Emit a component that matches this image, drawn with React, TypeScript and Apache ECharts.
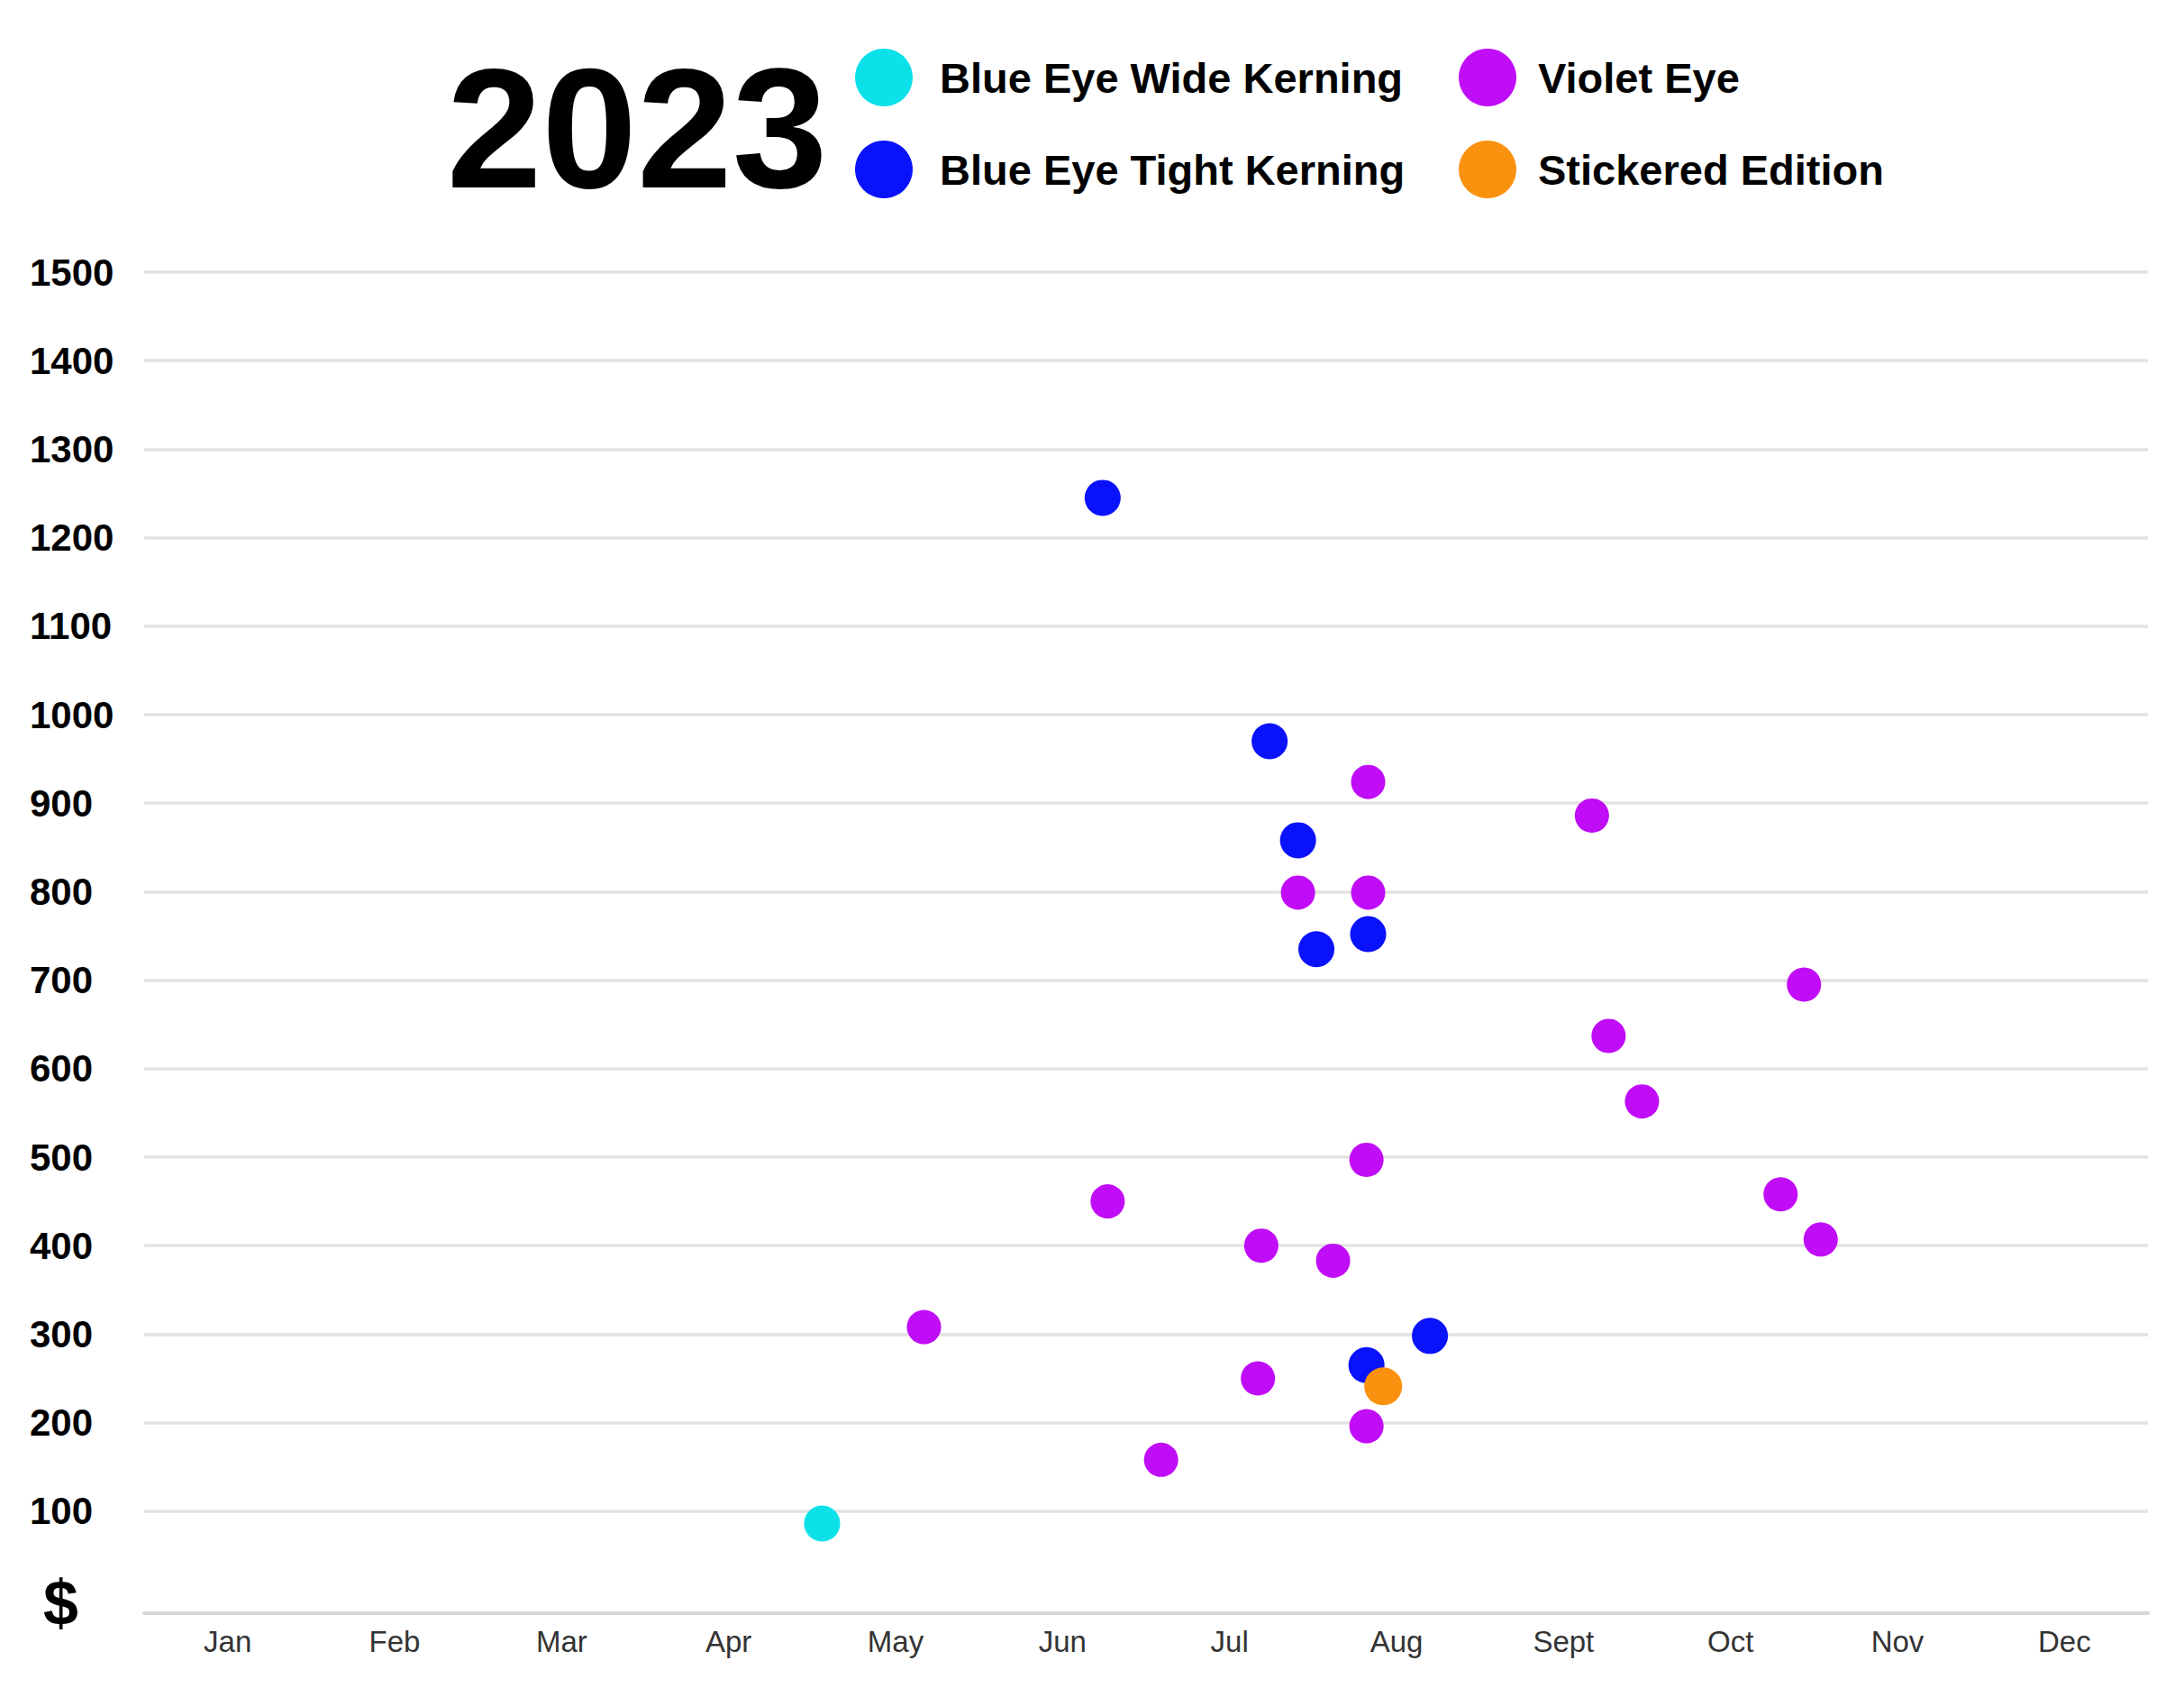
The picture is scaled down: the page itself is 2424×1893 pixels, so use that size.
import { useEffect, useRef } from 'react';
import * as echarts from 'echarts';

// month labels along the bottom; scatter x is months since Jan 1 (0..12)
const months = ['Jan', 'Feb', 'Mar', 'Apr', 'May', 'Jun', 'Jul', 'Aug', 'Sept', 'Oct', 'Nov', 'Dec'];

const wideKerning: [number, number][] = [[4.06, 86]];

const tightKerning: [number, number][] = [
  [5.74, 1245],
  [6.74, 970],
  [6.91, 858],
  [7.02, 735],
  [7.33, 752],
  [7.32, 265],
  [7.7, 298],
];

const violetEye: [number, number][] = [
  [4.67, 308],
  [5.77, 450],
  [6.09, 158],
  [6.67, 250],
  [6.69, 400],
  [6.91, 799],
  [7.12, 383],
  [7.33, 924],
  [7.33, 799],
  [7.32, 497],
  [7.32, 196],
  [8.67, 886],
  [8.77, 637],
  [8.97, 563],
  [9.8, 458],
  [9.94, 695],
  [10.04, 407],
];

const stickered: [number, number][] = [[7.42, 241]];

const FONT = '"Liberation Sans", Arial, sans-serif';

export default function App() {
  const chartRef = useRef<HTMLDivElement>(null);

  useEffect(() => {
    if (!chartRef.current) return;
    const chart = echarts.init(chartRef.current, undefined, { renderer: 'svg' });

    const legendText = {
      fontSize: 47,
      fontWeight: 'bold' as const,
      fontFamily: FONT,
      color: '#000',
    };

    chart.setOption({
      animation: false,
      backgroundColor: '#fff',
      textStyle: { fontFamily: FONT },
      grid: { left: 160, right: 40, top: 302, bottom: 118 },
      graphic: [
        {
          type: 'text',
          x: 707,
          y: 142,
          style: {
            text: '2023',
            fontSize: 190,
            fontWeight: 'bold',
            fontFamily: FONT,
            fill: '#000',
            align: 'center',
            verticalAlign: 'middle',
          },
        },
      ],
      legend: [
        {
          left: 944,
          top: 49,
          orient: 'vertical',
          icon: 'circle',
          itemWidth: 64,
          itemHeight: 64,
          itemGap: 38,
          data: ['Blue Eye Wide Kerning', 'Blue Eye Tight Kerning'],
          textStyle: { ...legendText, padding: [0, 0, 0, 25] },
        },
        {
          left: 1614,
          top: 49,
          orient: 'vertical',
          icon: 'circle',
          itemWidth: 64,
          itemHeight: 64,
          itemGap: 38,
          data: ['Violet Eye', 'Stickered Edition'],
          textStyle: { ...legendText, padding: [0, 0, 0, 19] },
        },
      ],
      xAxis: [
        {
          type: 'category',
          data: months,
          boundaryGap: true,
          offset: 15,
          axisLine: { show: true, onZero: false, lineStyle: { color: '#d6d6d6', width: 4 } },
          axisTick: { show: false },
          splitLine: { show: false },
          axisLabel: {
            fontSize: 33,
            color: '#333',
            fontFamily: FONT,
            margin: 15,
          },
        },
        {
          type: 'value',
          min: 0,
          max: 12,
          show: false,
          splitLine: { show: false },
        },
      ],
      yAxis: {
        type: 'value',
        min: 0,
        max: 1500,
        interval: 100,
        axisLine: { show: false },
        axisTick: { show: false },
        splitLine: {
          show: true,
          showMinLine: false,
          lineStyle: { color: '#e2e2e2', width: 3.5 },
        },
        axisLabel: {
          align: 'left',
          margin: 127,
          fontSize: 42,
          fontWeight: 'bold',
          color: '#000',
          fontFamily: FONT,
          formatter: (v: number) => (v === 0 ? '{d|$}' : String(v)),
          rich: {
            d: {
              fontSize: 70,
              fontWeight: 'bold',
              color: '#000',
              fontFamily: FONT,
              padding: [8, 0, 0, 15],
            },
          },
        },
      },
      series: [
        {
          name: 'Blue Eye Wide Kerning',
          type: 'scatter',
          xAxisIndex: 1,
          data: wideKerning,
          symbolSize: 40,
          itemStyle: { color: '#0ce1ea', opacity: 1 },
        },
        {
          name: 'Blue Eye Tight Kerning',
          type: 'scatter',
          xAxisIndex: 1,
          data: tightKerning,
          symbolSize: 40,
          itemStyle: { color: '#0a12fb', opacity: 1 },
        },
        {
          name: 'Violet Eye',
          type: 'scatter',
          xAxisIndex: 1,
          data: violetEye,
          symbolSize: 38,
          itemStyle: { color: '#c10cf8', opacity: 1 },
        },
        {
          name: 'Stickered Edition',
          type: 'scatter',
          xAxisIndex: 1,
          data: stickered,
          symbolSize: 42,
          itemStyle: { color: '#fa920f', opacity: 1 },
        },
      ],
    });

    return () => {
      chart.dispose();
    };
  }, []);

  return (
    <div
      ref={chartRef}
      style={{ position: 'fixed', left: 0, top: 0, width: 2424, height: 1893 }}
    />
  );
}
